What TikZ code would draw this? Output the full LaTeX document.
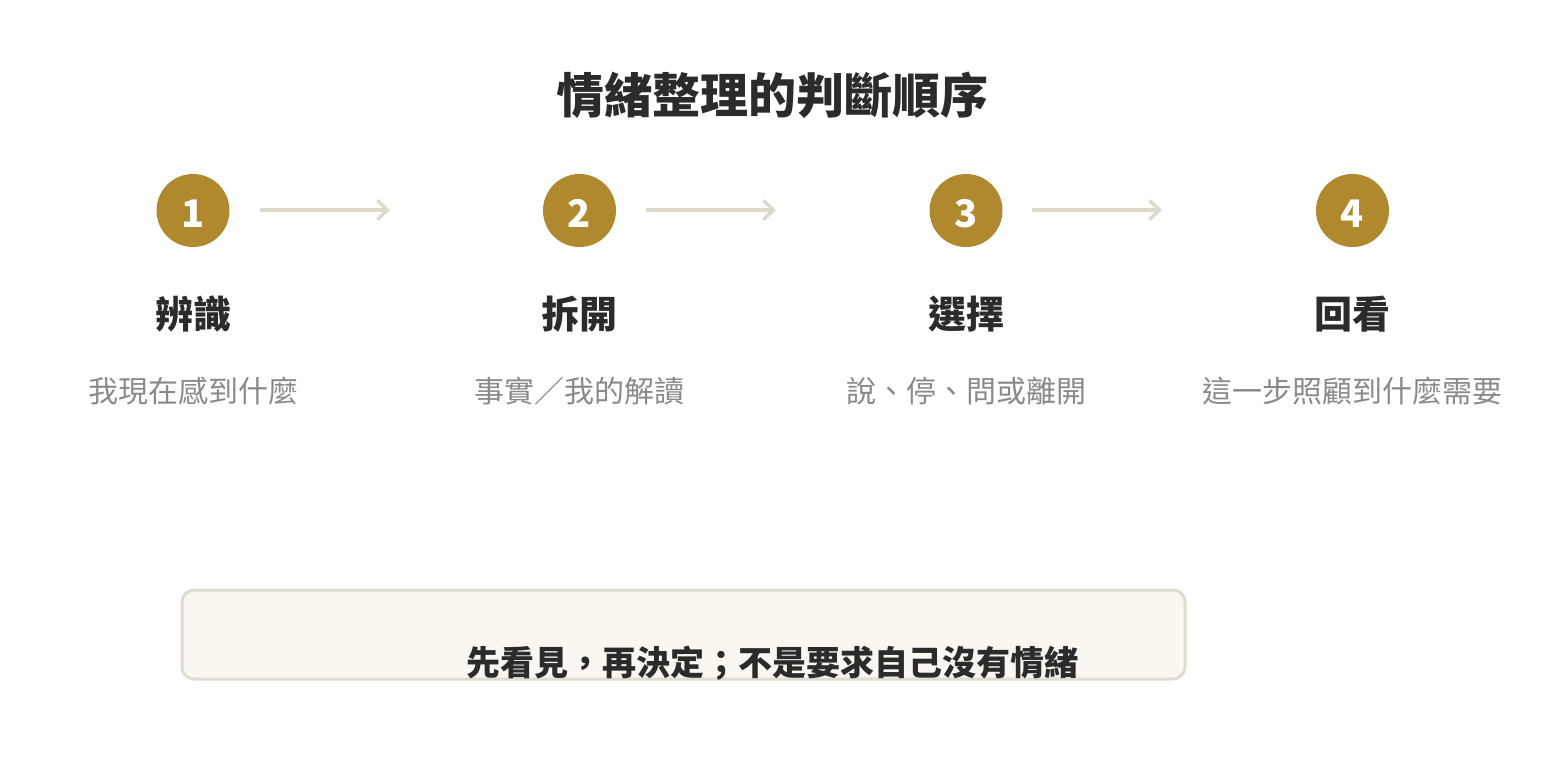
\documentclass[tikz,border=0pt]{standalone}
\usepackage{fontspec}
\setmainfont{Noto Sans CJK TC}
\usetikzlibrary{arrows.meta}
\definecolor{gold}{RGB}{176,136,46}
\definecolor{arrowgray}{RGB}{221,217,205}
\definecolor{darktext}{RGB}{43,43,43}
\definecolor{subgray}{RGB}{138,138,138}
\definecolor{boxfill}{RGB}{249,247,240}
\definecolor{boxline}{RGB}{224,220,208}
\tikzset{
  stepcircle/.style={circle, fill=gold, minimum size=73pt, inner sep=0pt, text height=33pt, text depth=0pt, text=white, font=\fontsize{38}{38}\selectfont\bfseries},
  flowarrow/.style={draw=arrowgray, line width=3.5pt, -{Straight Barb[length=10pt,width=19pt,line width=3.5pt]}},
  steplabel/.style={anchor=base, text=darktext, font=\fontsize{38}{38}\selectfont\bfseries, inner sep=0pt},
  stepsub/.style={anchor=base, text=subgray, font=\fontsize{30}{30}\selectfont, inner sep=0pt},
  titletext/.style={anchor=base, text=darktext, font=\fontsize{48}{48}\selectfont\bfseries, inner sep=0pt},
  notebox/.style={draw=boxline, fill=boxfill, line width=3pt, rounded corners=12pt},
  notetext/.style={anchor=base, text=darktext, font=\fontsize{34}{34}\selectfont\bfseries, inner sep=0pt}
}
\begin{document}
\begin{tikzpicture}[x=1pt,y=-1pt]
\useasboundingbox (0,0) rectangle (1546,760);
\node[titletext] (title) at (772,113) {情緒整理的判斷順序};
% circles
\node[stepcircle] (c1) at (193,210.5) {1};
\node[stepcircle] (c2) at (579.5,210.5) {2};
\node[stepcircle] (c3) at (966,210.5) {3};
\node[stepcircle] (c4) at (1352.5,210.5) {4};
% arrows
\coordinate (a1s) at (260,210); \coordinate (a1e) at (390,210);
\coordinate (a2s) at (646,210); \coordinate (a2e) at (776,210);
\coordinate (a3s) at (1032,210); \coordinate (a3e) at (1162,210);
\draw[flowarrow] (a1s) -- (a1e);
\draw[flowarrow] (a2s) -- (a2e);
\draw[flowarrow] (a3s) -- (a3e);
% labels
\node[steplabel] (l1) at (193,328.5) {辨識};
\node[steplabel] (l2) at (579,328.5) {拆開};
\node[steplabel] (l3) at (966,328.5) {選擇};
\node[steplabel] (l4) at (1352,328.5) {回看};
% sublabels
\node[stepsub] (s1) at (193,402) {我現在感到什麼};
\node[stepsub] (s2) at (579,402) {事實／我的解讀};
\node[stepsub] (s3) at (966,402) {說、停、問或離開};
\node[stepsub] (s4) at (1352,402) {這一步照顧到什麼需要};
% note box
\draw[notebox] (182,590) rectangle (1185,679);
\node[notetext] (note) at (772,675) {先看見，再決定；不是要求自己沒有情緒};
\end{tikzpicture}
\end{document}
